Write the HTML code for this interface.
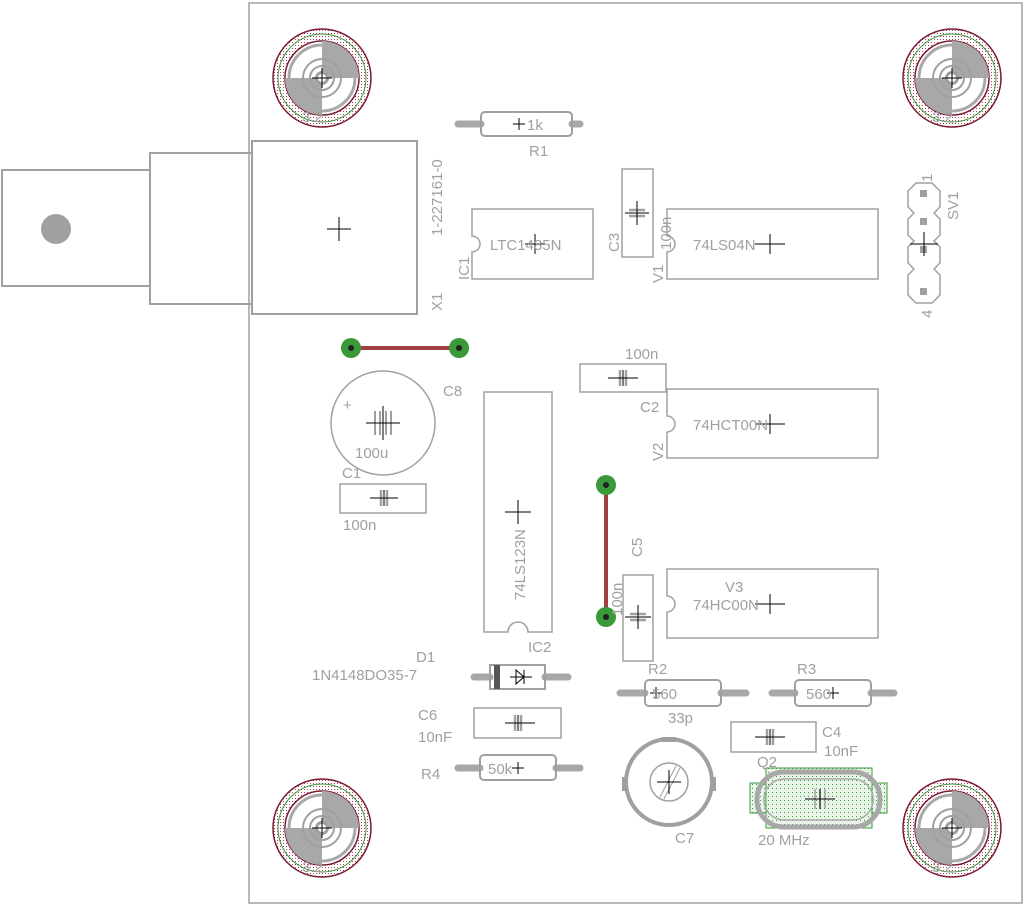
<!DOCTYPE html>
<html><head><meta charset="utf-8"><style>html,body{margin:0;padding:0;background:#fff}svg{display:block}</style></head><body>
<svg width="1032" height="907" viewBox="0 0 1032 907" xmlns="http://www.w3.org/2000/svg" font-family="Liberation Sans, sans-serif" font-size="15" fill="none" stroke="#a0a0a0">
<defs>
<pattern id="pd" width="3" height="3" patternUnits="userSpaceOnUse"><rect width="3" height="3" fill="#fff" stroke="none"/><rect width="1" height="1" fill="#b04060" stroke="none"/></pattern>
<pattern id="gd" width="4" height="4" patternUnits="userSpaceOnUse"><rect width="4" height="4" fill="#e8f5e8" stroke="none"/><rect width="1" height="1" fill="#30a030" stroke="none"/></pattern>
<g id="mh">
<circle r="49" fill="url(#pd)" stroke="#7a1a30" stroke-width="1.5"/>
<circle r="44" stroke="#3a9a3a" stroke-width="1"/>
<circle r="37" fill="#fff" stroke="#7a1a30" stroke-width="1.5"/>
<path d="M0 -37 A37 37 0 0 1 37 0 L0 0Z M0 37 A37 37 0 0 1 -37 0 L0 0Z" fill="#a8a8a8" stroke="none"/>
<circle r="33" stroke="#a8a8a8" stroke-width="3"/>
<circle r="19" stroke="#a0a0a0" stroke-width="2"/>
<circle r="12" stroke="#a0a0a0" stroke-width="2"/>
<circle r="7" fill="#a0a0a0" stroke="none"/><circle r="4" fill="#fff" stroke="none"/>
<path d="M-10 0H10M0 -10V10" stroke="#000" stroke-width="1"/>
</g>
<g id="ch"><path d="M-3 -8V8M3 -8V8" stroke="#a0a0a0" stroke-width="2.5"/></g>
<g id="cv"><path d="M-8 -3H8M-8 3H8" stroke="#a0a0a0" stroke-width="2.5"/></g>
</defs>
<g stroke-width="2">
<rect x="249" y="3" width="773" height="900" stroke-width="1.5"/>
<rect x="2" y="170" width="148" height="116"/>
<rect x="150" y="153" width="102" height="151"/>
<rect x="252" y="141" width="165" height="173"/>
</g>
<circle cx="56" cy="229" r="15" fill="#a0a0a0" stroke="none"/>
<path d="M327 229H351M339 217V241" stroke="#000"/>
<use href="#mh" x="322" y="78"/><use href="#mh" x="952" y="78"/><use href="#mh" x="322" y="828"/><use href="#mh" x="952" y="828"/>
<g fill="#a0a0a0" stroke="none">
<text x="302" y="122">3.2</text><text x="932" y="122">3.2</text>
<text x="302" y="872">3.2</text><text x="932" y="872">3.2</text>
</g>
<g stroke-width="2">
<path d="M458 124H481M572 124H580" stroke-width="7" stroke-linecap="round" stroke="#a8a8a8"/>
<rect x="481" y="112" width="91" height="24" rx="4"/>
<path d="M620 693H645M721 693H746" stroke-width="7" stroke-linecap="round" stroke="#a8a8a8"/>
<rect x="645" y="680" width="76" height="26" rx="4"/>
<path d="M772 693H795M871 693H894" stroke-width="7" stroke-linecap="round" stroke="#a8a8a8"/>
<rect x="795" y="680" width="76" height="26" rx="4"/>
<path d="M458 768H480M556 768H580" stroke-width="7" stroke-linecap="round" stroke="#a8a8a8"/>
<rect x="480" y="755" width="76" height="25" rx="4"/>
<path d="M474 677H490M545 677H568" stroke-width="7" stroke-linecap="round" stroke="#a8a8a8"/>
<rect x="490" y="665" width="55" height="24"/>
</g>
<rect x="494" y="665" width="6" height="24" fill="#555" stroke="none"/>
<path d="M510 677H532M516 670L524 677L516 684ZM524 670V684" stroke="#000" stroke-width="1"/>
<g stroke-width="1.5">
<path d="M472 209H593V279H472V252A8 8 0 0 0 472 236Z"/>
<path d="M667 209H878V279H667V252A8 8 0 0 0 667 236Z"/>
<path d="M667 389H878V458H667V432A8 8 0 0 0 667 416Z"/>
<path d="M667 569H878V638H667V612A8 8 0 0 0 667 596Z"/>
<path d="M484 392H552V632H528A10 10 0 0 0 508 632H484Z"/>
<rect x="622" y="169" width="31" height="88"/>
<rect x="580" y="364" width="86" height="28"/>
<rect x="340" y="484" width="86" height="29"/>
<rect x="623" y="575" width="30" height="86"/>
<rect x="474" y="708" width="87" height="30"/>
<rect x="731" y="722" width="85" height="30"/>
<path d="M916 183H932L940 191V207L934 213L940 219V235L934 241L940 247V263L934 269L940 275V295L932 303H916L908 295V275L914 269L908 263V247L914 241L908 235V219L914 213L908 207V191Z"/>
<circle cx="383" cy="423" r="52"/>
<circle cx="669" cy="782" r="43" stroke-width="4"/>
<circle cx="669" cy="782" r="19"/>
</g>
<use href="#cv" x="637" y="213"/><use href="#ch" x="623" y="378"/><use href="#ch" x="384" y="498"/>
<use href="#cv" x="638" y="617"/><use href="#ch" x="518" y="723"/><use href="#ch" x="770" y="737"/>
<g fill="#a0a0a0" stroke="none">
<rect x="920" y="190" width="7" height="7"/><rect x="920" y="218" width="7" height="7"/><rect x="920" y="246" width="7" height="7"/><rect x="920" y="288" width="7" height="7"/>
<rect x="662" y="737" width="14" height="5"/><rect x="622" y="777" width="5" height="14"/><rect x="711" y="777" width="5" height="14"/>
</g>
<path d="M660 797L676 766M664 799L680 768" stroke="#a0a0a0"/>
<g stroke="#a0a0a0" stroke-width="2">
<path d="M375 411V435M380 411V435M386 411V435M391 411V435"/>
</g>
<g stroke="#000" stroke-width="1">
<path d="M513 124H525M519 118V130"/>
<path d="M525 244H545M535 234V254"/>
<path d="M625 213H649M637 201V225"/>
<path d="M755 244H785M770 234V254"/>
<path d="M910 244H938M924 232V256"/>
<path d="M366 423H400M383 406V440"/>
<path d="M370 498H398M384 490V506"/>
<path d="M505 512H531M518 500V524"/>
<path d="M608 378H638M623 370V386"/>
<path d="M755 424H785M770 414V434"/>
<path d="M755 604H785M770 594V614"/>
<path d="M625 617H651M638 605V629"/>
<path d="M505 723H535M518 715V731"/>
<path d="M755 737H785M770 729V745"/>
<path d="M512 768H524M518 762V774"/>
<path d="M650 693H662M656 687V699"/>
<path d="M827 693H839M833 687V699"/>
<path d="M657 782H681M669 770V794"/>
</g>
<path d="M351 348H459M606 485V617" stroke="#a04040" stroke-width="4"/>
<g fill="#3a9a3a" stroke="none"><circle cx="351" cy="348" r="10"/><circle cx="459" cy="348" r="10"/><circle cx="606" cy="485" r="10"/><circle cx="606" cy="617" r="10"/></g>
<g fill="#222" stroke="none"><circle cx="351" cy="348" r="3"/><circle cx="459" cy="348" r="3"/><circle cx="606" cy="485" r="3"/><circle cx="606" cy="617" r="3"/></g>
<!-- crystal -->
<rect x="750" y="783" width="16" height="30" fill="url(#gd)" stroke="#3a9a3a" stroke-width="1"/>
<rect x="872" y="783" width="15" height="30" fill="url(#gd)" stroke="#3a9a3a" stroke-width="1"/>
<rect x="766" y="768" width="106" height="60" fill="url(#gd)" stroke="#3a9a3a" stroke-width="1"/>
<rect x="757" y="772" width="123" height="55" rx="27" stroke="#a8a8a8" stroke-width="5"/>
<rect x="764" y="779" width="109" height="41" rx="20" stroke="#a8a8a8" stroke-width="1.5"/>
<path d="M815 789V809M820 789V809M825 789V809" stroke="#a0a0a0" stroke-width="1.5"/>
<path d="M805 799H835M820 789V809" stroke="#000" stroke-width="1"/>
<g fill="#a0a0a0" stroke="none">
<text x="527" y="130">1k</text><text x="529" y="156">R1</text>
<text x="490" y="250">LTC1485N</text>
<text x="693" y="250">74LS04N</text>
<text x="693" y="430">74HCT00N</text>
<text x="725" y="592">V3</text><text x="693" y="610">74HC00N</text>
<text x="443" y="396">C8</text><text x="343" y="410">+</text><text x="355" y="458">100u</text>
<text x="342" y="478">C1</text><text x="343" y="530">100n</text>
<text x="625" y="359">100n</text><text x="640" y="412">C2</text>
<text x="528" y="652">IC2</text>
<text x="416" y="662">D1</text><text x="312" y="680">1N4148DO35-7</text>
<text x="648" y="674">R2</text><text x="652" y="699">560</text><text x="668" y="723">33p</text>
<text x="797" y="674">R3</text><text x="806" y="699">560</text>
<text x="418" y="720">C6</text><text x="418" y="742">10nF</text>
<text x="822" y="737">C4</text><text x="824" y="756">10nF</text><text x="757" y="767">Q2</text>
<text x="488" y="774">50k</text><text x="421" y="779">R4</text>
<text x="675" y="843">C7</text><text x="758" y="845">20 MHz</text>
<text transform="translate(442,236) rotate(-90)">1-227161-0</text>
<text transform="translate(442,311) rotate(-90)">X1</text>
<text transform="translate(469,280) rotate(-90)">IC1</text>
<text transform="translate(619,252) rotate(-90)">C3</text>
<text transform="translate(671,250) rotate(-90)">100n</text>
<text transform="translate(663,283) rotate(-90)">V1</text>
<text transform="translate(663,461) rotate(-90)">V2</text>
<text transform="translate(932,182) rotate(-90)">1</text>
<text transform="translate(958,220) rotate(-90)">SV1</text>
<text transform="translate(932,318) rotate(-90)">4</text>
<text transform="translate(525,600) rotate(-90)">74LS123N</text>
<text transform="translate(642,557) rotate(-90)">C5</text>
<text transform="translate(622,616) rotate(-90)">100n</text>
</g>
</svg>
</body></html>
